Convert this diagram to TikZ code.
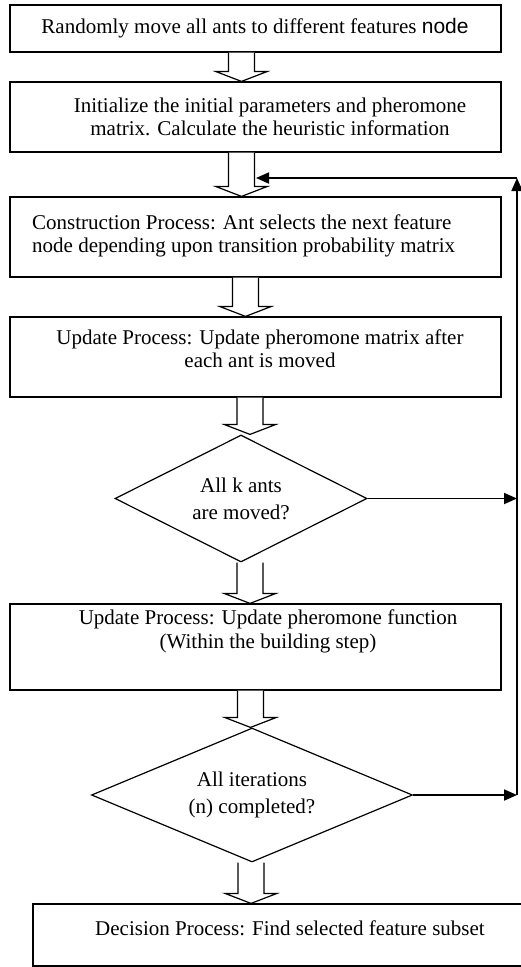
\documentclass[tikz,border=0pt]{standalone}
\usepackage{fontspec}
\setmainfont{Liberation Serif}
\newfontfamily\nodefont{Liberation Sans}
\usetikzlibrary{arrows.meta, positioning, shapes.geometric, calc}

\tikzset{
  procbox/.style={draw, line width=1.2pt, rectangle, inner sep=0pt},
  testbox/.style={draw, line width=1.2pt, diamond, inner sep=0pt, align=center,
    font=\fontsize{21}{27}\selectfont},
  boxtext/.style={align=center, inner sep=0pt, font=\fontsize{21}{23.5}\selectfont},
  hollow/.style={draw, line width=1.2pt, fill=white, line join=miter},
  flowline/.style={line width=1.8pt, -{Triangle[length=13pt, width=11pt]}},
}

% hollow block arrow from the first point straight down to the second
\newcommand{\hollowarrow}[2]{%
  \draw[hollow] let \p1=(#1), \p2=(#2) in
    (\x1-13pt,\y1) -- (\x1-13pt,\y2+10pt) -- (\x1-26pt,\y2+10pt)
    -- (\x1,\y2) -- (\x1+26pt,\y2+10pt) -- (\x1+13pt,\y2+10pt)
    -- (\x1+13pt,\y1);}

\begin{document}
\begin{tikzpicture}[x=1pt, y=-1pt]
  \useasboundingbox (0,0) rectangle (520,967);

  % Process boxes
  \node[procbox, minimum width=491pt, minimum height=47pt] (b1) at (255.5,28.5) {};
  \node[procbox, minimum width=491pt, minimum height=70pt] (b2) at (255.5,117) {};
  \node[procbox, minimum width=491pt, minimum height=80pt] (b3) at (255.5,237) {};
  \node[procbox, minimum width=491pt, minimum height=80pt] (b4) at (255.5,357) {};
  \node[procbox, minimum width=491pt, minimum height=86pt] (b5) at (255.5,647) {};
  \node[procbox, minimum width=512pt, minimum height=62pt] (b6) at (289,935) {};

  % Decisions
  \node[testbox, aspect=2, minimum width=252pt, minimum height=127pt] (d1) at (241,498.5)
    {All k ants\\are moved?};
  \node[testbox, aspect=2.4, minimum width=321pt, minimum height=134pt] (d2) at (252,795)
    {All iterations\\(n) completed?};

  % Texts
  \node[boxtext] (t1) at (255,28) {Randomly move all ants to different features {\nodefont node}};
  \node[boxtext] (t2) at (270,117) {Initialize the initial parameters and pheromone\\
    matrix. Calculate the heuristic information};
  \node[boxtext, align=left, anchor=west] (t3) at (32,236) {Construction Process: Ant selects the next feature\\
    node depending upon transition probability matrix};
  \node[boxtext] (t4) at (260,348.5) {Update Process: Update pheromone matrix after\\
    each ant is moved};
  \node[boxtext] (t5) at (268,631.5) {Update Process: Update pheromone function\\
    (Within the building step)};
  \node[boxtext] (t6) at (290,928) {Decision Process: Find selected feature subset};

  % Block arrows
  \hollowarrow{[xshift=-14pt]b1.south}{b2.north}
  \hollowarrow{[xshift=-14pt]b2.south}{b3.north}
  \hollowarrow{[xshift=-10pt]b3.south}{b4.north}
  \hollowarrow{[xshift=-5.5pt]b4.south}{d1.north}
  \hollowarrow{[xshift=9pt]d1.south}{b5.north}
  \hollowarrow{[xshift=-5pt]b5.south}{d2.north}
  \hollowarrow{[xshift=-1pt]d2.south}{b6.north}

  % Loop back
  \coordinate (loop) at (517,178);
  \coordinate (ret) at (256,178);
  \draw[flowline] (d1.east) -- (d1.east -| loop);
  \draw[flowline] (d2.east) -- (d2.east -| loop);
  \draw[flowline] (d2.east -| loop) -- (loop);
  \draw[flowline] (loop) -- (ret);
\end{tikzpicture}
\end{document}
